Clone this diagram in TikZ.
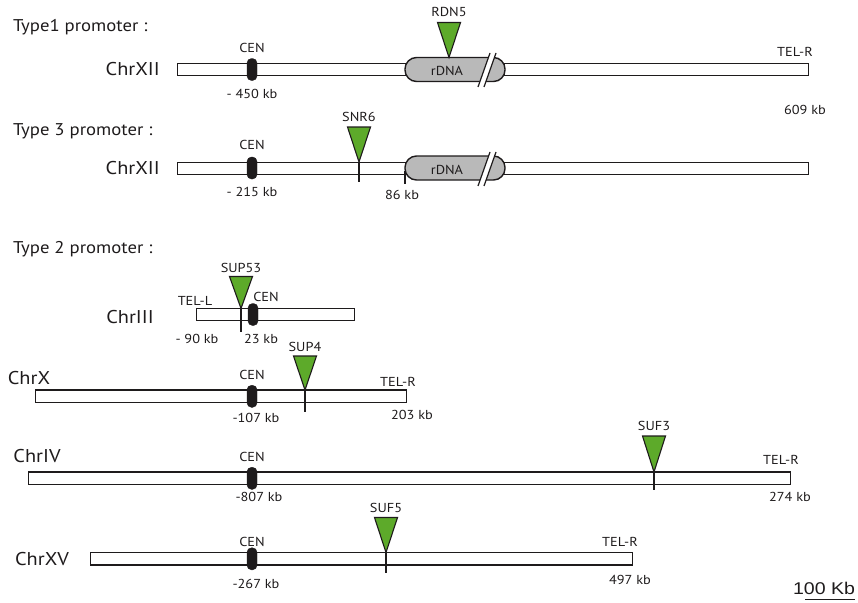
\documentclass[tikz,border=0pt]{standalone}
\usepackage{fontspec}
\setmainfont[FakeStretch=1.1]{PT Sans}
\newfontfamily\scalebarfont[FakeStretch=1.15]{Liberation Sans}
\definecolor{grn}{RGB}{93,170,42}
\definecolor{pillgray}{RGB}{185,185,185}
\definecolor{ink}{RGB}{30,27,28}
\begin{document}
\begin{tikzpicture}[x=1pt,y=-1pt,
  chrbar/.style={draw=ink, line width=1.4pt, fill=white, inner sep=0pt, minimum height=12.5pt, anchor=west},
  cenbox/.style={fill=ink, draw=ink, rounded corners=4.5pt, inner sep=0pt, minimum width=10pt, minimum height=22pt},
  pillbox/.style={fill=pillgray, draw=ink, line width=1.4pt, rounded corners=11.5pt, inner sep=0pt, minimum width=100pt, minimum height=24pt},
  tri/.style={fill=grn, draw=ink, line width=1.1pt, line join=miter},
  tick/.style={draw=ink, line width=1.2pt},
  brk/.style={draw=ink, line width=1.2pt},
  lbl/.style={text=ink, font=\fontsize{13}{15}\selectfont, inner sep=0pt},
  title/.style={text=ink, font=\fontsize{17}{19}\selectfont, inner sep=0pt, anchor=base west},
  chrname/.style={text=ink, font=\fontsize{18.5}{20}\selectfont, inner sep=0pt},
]
\useasboundingbox (0,0) rectangle (858,602);

% ---------------- Type 1 ----------------
\node[title] (t1) at (13,32) {Type1 promoter :};
\node[chrname, anchor=east] (n1) at (160,69.5) {ChrXII};
\node[chrbar, minimum width=631pt] (b1) at (177,69.5) {};
\node[pillbox] (p1) at (455,69.5) {};
\fill[white] (478,87) -- (490,53) -- (496,53) -- (484,87) -- cycle;
\draw[brk] (478,87) -- (490,53);
\draw[brk] (484,87) -- (496,53);
\node[lbl] (r1) at (447,71) {rDNA};
\node[cenbox] (c1) at (252,69.5) {};
\node[lbl] (cl1) at (252,48) {CEN};
\node[lbl] (kb1) at (252,94) {- 450 kb};
\coordinate (a1) at (449,57.5);
\draw[tri] (a1) -- ++(-11.5,-35) -- ++(23,0) -- cycle;
\node[lbl] (g1) at (449,12) {RDN5};
\node[lbl] (tr1) at (795,52) {TEL-R};
\node[lbl] (e1) at (805,110) {609 kb};

% ---------------- Type 3 ----------------
\node[title] (t3) at (13,135) {Type 3 promoter :};
\node[chrname, anchor=east] (n2) at (160,168.5) {ChrXII};
\node[chrbar, minimum width=631pt] (b2) at (177,168.5) {};
\coordinate (k86) at (405,171);
\coordinate (k86e) at (405,184);
\draw[tick] (k86) -- (k86e);
\node[pillbox] (p2) at (455,168) {};
\fill[white] (478,186) -- (490,152) -- (496,152) -- (484,186) -- cycle;
\draw[brk] (478,186) -- (490,152);
\draw[brk] (484,186) -- (496,152);
\node[lbl] (r2) at (447,170) {rDNA};
\node[cenbox] (c2) at (252,168) {};
\node[lbl] (cl2) at (252,145) {CEN};
\node[lbl] (kb2) at (252,192) {- 215 kb};
\coordinate (a2) at (359,162);
\coordinate (a2e) at (359,182);
\draw[tick] (a2) -- (a2e);
\draw[tri] (a2) -- ++(-11.5,-35) -- ++(23,0) -- cycle;
\node[lbl] (g2) at (359,117) {SNR6};
\node[lbl] (e2) at (402,195) {86 kb};

% ---------------- Type 2 ----------------
\node[title] (t2) at (13,253) {Type 2 promoter :};

% ChrIII
\node[chrname] (n3) at (130,317) {ChrIII};
\node[chrbar, minimum width=158pt] (b3) at (196,314.5) {};
\coordinate (a3) at (241,308.5);
\coordinate (a3e) at (241,332);
\draw[tick] (a3) -- (a3e);
\node[cenbox] (c3) at (253,314.5) {};
\draw[tri] (a3) -- ++(-11.5,-32) -- ++(23,0) -- cycle;
\node[lbl] (g3) at (241,268) {SUP53};
\node[lbl] (tl3) at (195,301) {TEL-L};
\node[lbl] (cl3) at (266,297) {CEN};
\node[lbl] (kb3) at (197,339) {- 90 kb};
\node[lbl] (e3) at (261,339) {23 kb};

% ChrX
\node[chrname] (n4) at (29,378) {ChrX};
\node[chrbar, minimum width=371pt] (b4) at (35,396.3) {};
\node[cenbox] (c4) at (252,396.3) {};
\node[lbl] (cl4) at (252,375) {CEN};
\node[lbl] (kb4) at (256,418) {-107 kb};
\coordinate (a4) at (305,390);
\coordinate (a4e) at (305,412);
\draw[tick] (a4) -- (a4e);
\draw[tri] (a4) -- ++(-11.5,-34) -- ++(23,0) -- cycle;
\node[lbl] (g4) at (305,347) {SUP4};
\node[lbl] (tr4) at (398,382) {TEL-R};
\node[lbl] (e4) at (412,415) {203 kb};

% ChrIV
\node[chrname] (n5) at (37,456) {ChrIV};
\node[chrbar, minimum width=762pt] (b5) at (28,478.3) {};
\node[cenbox] (c5) at (252,478.3) {};
\node[lbl] (cl5) at (252,457) {CEN};
\node[lbl] (kb5) at (259,497) {-807 kb};
\coordinate (a5) at (654,472);
\coordinate (a5e) at (654,490);
\draw[tick] (a5) -- (a5e);
\draw[tri] (a5) -- ++(-11.5,-36) -- ++(23,0) -- cycle;
\node[lbl] (g5) at (654,426) {SUF3};
\node[lbl] (tr5) at (781,460) {TEL-R};
\node[lbl] (e5) at (790,497) {274 kb};

% ChrXV
\node[chrname] (n6) at (42,559) {ChrXV};
\node[chrbar, minimum width=542pt] (b6) at (90,558.8) {};
\node[cenbox] (c6) at (252,558.8) {};
\node[lbl] (cl6) at (252,542) {CEN};
\node[lbl] (kb6) at (256,584) {-267 kb};
\coordinate (a6) at (386,552.5);
\coordinate (a6e) at (386,573);
\draw[tick] (a6) -- (a6e);
\draw[tri] (a6) -- ++(-11.5,-35) -- ++(23,0) -- cycle;
\node[lbl] (g6) at (386,508) {SUF5};
\node[lbl] (tr6) at (620,542) {TEL-R};
\node[lbl] (e6) at (630,580) {497 kb};

% scale bar
\node[text=ink, font=\scalebarfont\fontsize{17}{19}\selectfont, inner sep=0pt] (sc) at (824,588) {100 Kb};
\coordinate (s1) at (805,599.5);
\coordinate (s2) at (855,599.5);
\draw[ink, line width=1.5pt] (s1) -- (s2);
\end{tikzpicture}
\end{document}
